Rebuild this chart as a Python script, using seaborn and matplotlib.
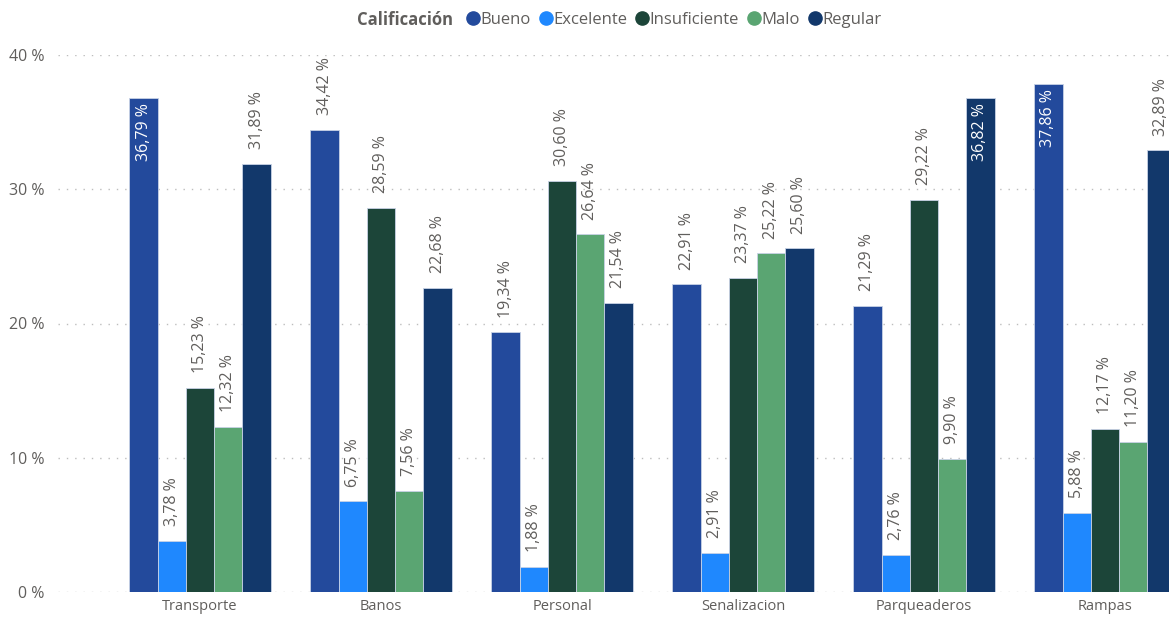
import pandas as pd
import seaborn as sns
import matplotlib.pyplot as plt
from matplotlib.lines import Line2D
from matplotlib.ticker import FuncFormatter

# Data
categorias = ["Transporte", "Banos", "Personal", "Senalizacion", "Parqueaderos", "Rampas"]
calificaciones = ["Bueno", "Excelente", "Insuficiente", "Malo", "Regular"]
bueno = [36.79, 34.42, 19.34, 22.91, 21.29, 37.86]
excelente = [3.78, 6.75, 1.88, 2.91, 2.76, 5.88]
insuficiente = [15.23, 28.59, 30.60, 23.37, 29.22, 12.17]
malo = [12.32, 7.56, 26.64, 25.22, 9.90, 11.20]
regular = [31.89, 22.68, 21.54, 25.60, 36.82, 32.89]

colores = ["#234A9C", "#1F88FE", "#1C4539", "#5AA572", "#12386B"]

series = [bueno, excelente, insuficiente, malo, regular]
rows = []
for cal, vals in zip(calificaciones, series):
    for cat, v in zip(categorias, vals):
        rows.append({"Categoria": cat, "Calificación": cal, "Valor": v})
df = pd.DataFrame(rows)

sns.set_style("white")
plt.rcParams["font.family"] = ["Open Sans", "DejaVu Sans"]

fig = plt.figure(figsize=(11.69, 6.18), dpi=100)
ax = fig.add_axes([58 / 1169, 1 - 592 / 618, 1 - 58 / 1169, (592 - 55) / 618])

sns.barplot(data=df, x="Categoria", y="Valor", hue="Calificación",
            hue_order=calificaciones, order=categorias, palette=colores,
            saturation=1, width=0.78, gap=0, errorbar=None, ax=ax, legend=False,
            edgecolor="#c8d2e6", linewidth=0.6, zorder=3)

ax.set_ylim(0, 40)
ax.set_xlim(-0.785, 5.354)
ax.set_yticks([0, 10, 20, 30, 40])
ax.yaxis.set_major_formatter(FuncFormatter(lambda v, p: f"{v:.0f} %"))
ax.grid(axis="y", linestyle=(0, (1, 5)), color="#bdbdbd", linewidth=1, zorder=0)
ax.set_axisbelow(True)
for s in ax.spines.values():
    s.set_visible(False)
ax.tick_params(axis="both", length=0, colors="#605e5c", labelsize=10.5)
ax.tick_params(axis="y", pad=9.5, labelsize=11.5)
ax.tick_params(axis="x", pad=5)
ax.set_xlabel("")
ax.set_ylabel("")

# Value labels, rotated; inside the bar when there is no room above
for cont in ax.containers:
    for bar in cont:
        h = bar.get_height()
        x = bar.get_x() + bar.get_width() / 2
        txt = f"{h:.2f}".replace(".", ",") + " %"
        if h > 36:
            ax.text(x, h - 0.4, txt, rotation=90, ha="center", va="top",
                    color="white", fontsize=11.5, zorder=4)
        else:
            ax.text(x, h + 1.1, txt, rotation=90, ha="center", va="bottom",
                    color="#605e5c", fontsize=11.5, zorder=4, clip_on=False)

# Legend on top
fig.text(357 / 1169, 1 - 20 / 618, "Calificación", fontsize=12, fontweight="bold",
         color="#605e5c", va="center", ha="left")
handles = [Line2D([], [], marker="o", linestyle="", markersize=9.5,
                  markerfacecolor=c, markeredgecolor=c) for c in colores]
fig.legend(handles, calificaciones, loc="center left",
           bbox_to_anchor=(463 / 1169, 1 - 20 / 618), ncol=5, frameon=False,
           handletextpad=-0.15, columnspacing=0.3, handlelength=1.2,
           fontsize=12, labelcolor="#605e5c", borderaxespad=0, borderpad=0)

fig.savefig("out.png", dpi=100)
